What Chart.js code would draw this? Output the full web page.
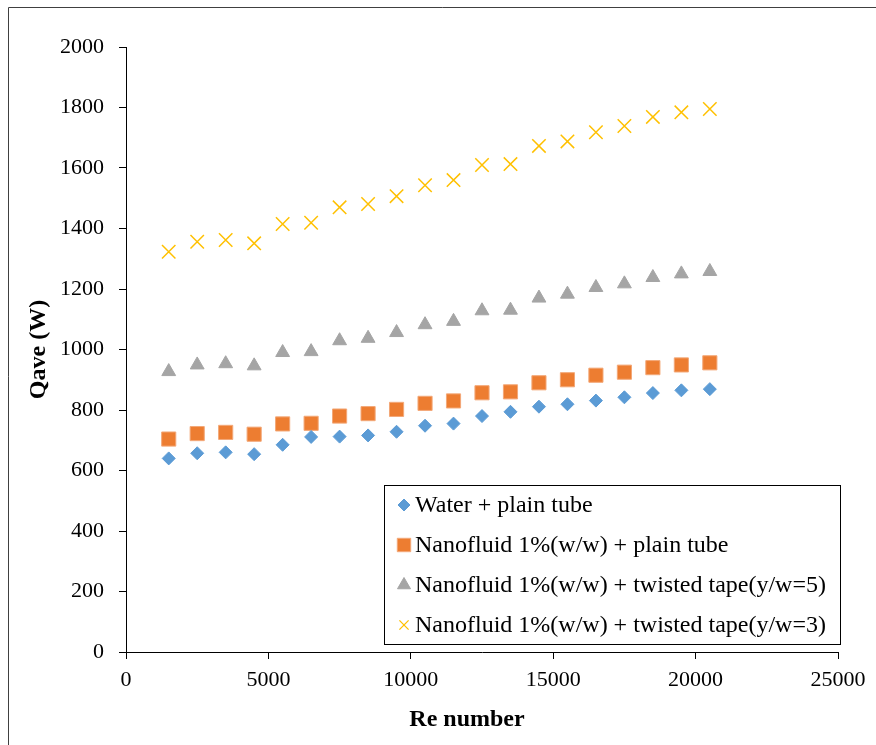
<!DOCTYPE html>
<html>
<head>
<meta charset="utf-8">
<title>Qave vs Re number</title>
<script src="https://cdn.jsdelivr.net/npm/chart.js@4.4.1/dist/chart.umd.min.js"></script>
<style>
  body { margin: 0; background: #fff; }
  canvas { display: block; }
</style>
</head>
<body>
<canvas id="myChart" width="876" height="745"></canvas>
<script>
// Re numbers (x values)
const reNumbers = [1500, 2500, 3500, 4500, 5500, 6500, 7500, 8500, 9500, 10500,
                   11500, 12500, 13500, 14500, 15500, 16500, 17500, 18500, 19500, 20500];

// Qave (W) for each case
const waterPlain = [640, 657, 660, 654, 685, 711, 712, 716, 728, 748,
                    755, 780, 794, 811, 819, 831, 842, 856, 865, 869];
const nanoPlain = [704, 722, 726, 720, 754, 756, 780, 788, 802, 822,
                   830, 857, 860, 890, 900, 915, 925, 940, 949, 956];
const nanoTape5 = [927, 949, 953, 946, 990, 993, 1029, 1037, 1056, 1082,
                   1093, 1128, 1130, 1170, 1183, 1205, 1217, 1238, 1250, 1258];
const nanoTape3 = [1323, 1356, 1362, 1351, 1415, 1419, 1470, 1481, 1507, 1543,
                   1560, 1610, 1613, 1673, 1688, 1718, 1739, 1769, 1784, 1795];

const seriesLabels = ['Water + plain tube',
                      'Nanofluid 1%(w/w) + plain tube',
                      'Nanofluid 1%(w/w) + twisted tape(y/w=5)',
                      'Nanofluid 1%(w/w) + twisted tape(y/w=3)'];

const xTicks = [0, 5000, 10000, 15000, 20000, 25000];
const yTicks = [0, 200, 400, 600, 800, 1000, 1200, 1400, 1600, 1800, 2000];
const xTitle = 'Re number';
const yTitle = 'Qave (W)';

const serif = '"Liberation Serif", "Times New Roman", serif';

function toPoints(ys) {
    return ys.map(function (y, i) { return { x: reNumbers[i], y: y }; });
}

// frame around the figure (top and left edges are what shows)
const framePlugin = {
    id: 'frame',
    beforeDraw: function (chart) {
        const ctx = chart.ctx;
        ctx.save();
        ctx.strokeStyle = '#404040';
        ctx.lineWidth = 1;
        ctx.beginPath();
        ctx.moveTo(8.5, 745);
        ctx.lineTo(8.5, 7.5);
        ctx.lineTo(876, 7.5);
        ctx.stroke();
        ctx.restore();
    },
    // x title sits a bit left of the plot centre in the original
    afterDraw: function (chart) {
        const ctx = chart.ctx;
        ctx.save();
        ctx.font = 'bold 24px ' + serif;
        ctx.fillStyle = '#000';
        ctx.textAlign = 'center';
        ctx.textBaseline = 'middle';
        ctx.fillText(xTitle, 467, 720);
        ctx.restore();
    }
};

// boxed legend inside the plot, like the excel one
const boxLegend = {
    id: 'boxLegend',
    afterDraw: function (chart) {
        const ctx = chart.ctx;
        const box = { left: 384, top: 485, right: 840, bottom: 644 };
        ctx.save();
        ctx.fillStyle = '#fff';
        ctx.fillRect(box.left, box.top, box.right - box.left, box.bottom - box.top);
        ctx.strokeStyle = '#000';
        ctx.lineWidth = 1;
        ctx.strokeRect(box.left + 0.5, box.top + 0.5, box.right - box.left, box.bottom - box.top);

        const rowY = [505, 545, 585, 625];
        const legendRadius = [6, 9.5, 7.5, 6.5];
        ctx.font = '24px ' + serif;
        ctx.textBaseline = 'middle';
        chart.data.datasets.forEach(function (ds, i) {
            ctx.fillStyle = ds.backgroundColor;
            ctx.strokeStyle = ds.borderColor;
            ctx.lineWidth = ds.pointStyle === 'crossRot' ? 1.3 : 1;
            Chart.helpers.drawPoint(ctx, {
                pointStyle: ds.pointStyle,
                radius: legendRadius[i],
                rotation: 0,
                borderWidth: ctx.lineWidth
            }, 404, rowY[i]);
            ctx.fillStyle = '#000';
            ctx.fillText(ds.label, 415, rowY[i] + 1);
        });
        ctx.restore();
    }
};

const ctx = document.getElementById('myChart');
const myChart = new Chart(ctx, {
    type: 'scatter',
    data: {
        datasets: [{
            label: seriesLabels[0],
            data: toPoints(waterPlain),
            pointStyle: 'rectRot',
            pointRadius: 6.5,
            backgroundColor: '#5B9BD5',
            borderColor: '#5B9BD5',
            borderWidth: 1
        }, {
            label: seriesLabels[1],
            data: toPoints(nanoPlain),
            pointStyle: 'rect',
            pointRadius: 10,
            backgroundColor: '#ED7D31',
            borderColor: '#F3A878',
            borderWidth: 1
        }, {
            label: seriesLabels[2],
            data: toPoints(nanoTape5),
            pointStyle: 'triangle',
            pointRadius: 8,
            backgroundColor: '#A5A5A5',
            borderColor: '#A5A5A5',
            borderWidth: 1
        }, {
            label: seriesLabels[3],
            data: toPoints(nanoTape3),
            pointStyle: 'crossRot',
            pointRadius: 9.5,
            backgroundColor: '#FFC000',
            borderColor: '#FFC000',
            borderWidth: 1.5
        }]
    },
    options: {
        responsive: false,
        animation: false,
        layout: { padding: { top: 47, right: 38, bottom: 0, left: 0 } },
        plugins: {
            legend: { display: false },
            tooltip: { enabled: false }
        },
        scales: {
            x: {
                type: 'linear',
                min: 0,
                max: 25000,
                afterFit: function (scale) { scale.height = 93; },
                afterBuildTicks: function (scale) {
                    scale.ticks = xTicks.map(function (v) { return { value: v }; });
                },
                grid: { drawOnChartArea: false, drawTicks: true, tickLength: 7, color: '#000' },
                border: { color: '#000', width: 1 },
                ticks: {
                    padding: 8,
                    maxRotation: 0,
                    color: '#000',
                    font: { family: serif, size: 22 },
                    callback: function (v) { return String(v); }
                },
                title: { display: false }
            },
            y: {
                type: 'linear',
                min: 0,
                max: 2000,
                afterFit: function (scale) { scale.width = 126; },
                afterBuildTicks: function (scale) {
                    scale.ticks = yTicks.map(function (v) { return { value: v }; });
                },
                grid: { drawOnChartArea: false, drawTicks: true, tickLength: 7, color: '#000' },
                border: { color: '#000', width: 1 },
                ticks: {
                    padding: 15,
                    color: '#000',
                    font: { family: serif, size: 22 },
                    callback: function (v) { return String(v); }
                },
                title: {
                    display: true,
                    text: yTitle,
                    color: '#000',
                    font: { family: serif, size: 24, weight: 'bold' },
                    padding: { top: 24, bottom: 0 }
                }
            }
        }
    },
    plugins: [framePlugin, boxLegend]
});
</script>
</body>
</html>
